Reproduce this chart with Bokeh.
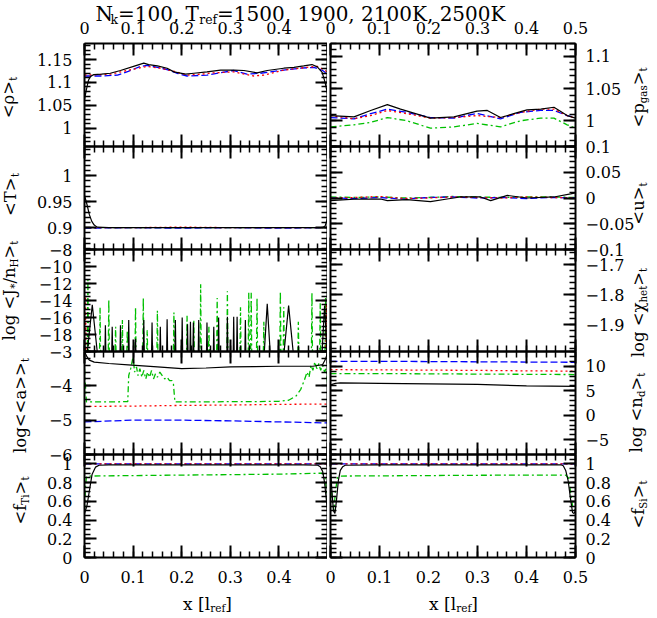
import math
from bokeh.plotting import figure
from bokeh.models import Range1d, LinearAxis, FixedTicker, Label, CustomJSTickFormatter
from bokeh.layouts import column, row
from bokeh.embed import file_html
from bokeh.resources import INLINE

FONT = "DejaVu Serif"
TICK_PX = 16
LABEL_PX = 16.5
TITLE_PX = 20
BLACK, RED, BLUE, GREEN = "#000000", "#ff0000", "#0000ff", "#00c000"

# ---------------- data ----------------
x_major = [0, 0.1, 0.2, 0.3, 0.4, 0.5]

# <rho>_t
rho_black_x = [0, 0.004, 0.008, 0.012, 0.019, 0.035, 0.053, 0.074, 0.101, 0.122, 0.132, 0.15, 0.17, 0.184,
               0.208, 0.225, 0.252, 0.28, 0.307, 0.328, 0.355, 0.376, 0.41, 0.431, 0.451, 0.468, 0.479,
               0.489, 0.495, 0.5]
rho_black_y = [1.063, 1.085, 1.104, 1.113, 1.117, 1.118, 1.12, 1.126, 1.135, 1.142, 1.139, 1.136, 1.131,
               1.123, 1.118, 1.12, 1.123, 1.127, 1.127, 1.126, 1.121, 1.126, 1.131, 1.133, 1.136, 1.139,
               1.134, 1.122, 1.1, 1.075]
rho_red_x = [0, 0.053, 0.101, 0.128, 0.156, 0.185, 0.211, 0.24, 0.266, 0.307, 0.348, 0.369, 0.41, 0.458,
             0.479, 0.496, 0.5]
rho_red_y = [1.116, 1.118, 1.129, 1.135, 1.131, 1.124, 1.116, 1.118, 1.121, 1.123, 1.114, 1.116, 1.127,
             1.133, 1.135, 1.126, 1.12]
rho_blue_x = [0, 0.034, 0.068, 0.09, 0.115, 0.128, 0.15, 0.17, 0.19, 0.211, 0.252, 0.28, 0.307, 0.334,
              0.362, 0.41, 0.444, 0.472, 0.49, 0.5]
rho_blue_y = [1.114, 1.114, 1.116, 1.124, 1.135, 1.137, 1.133, 1.128, 1.12, 1.114, 1.116, 1.121, 1.126,
              1.118, 1.12, 1.127, 1.131, 1.133, 1.126, 1.118]

# <p_gas>_t
pg_black_x = [0, 0.048, 0.082, 0.116, 0.143, 0.204, 0.252, 0.299, 0.32, 0.347, 0.374, 0.401, 0.429, 0.456,
              0.483, 0.5]
pg_black_y = [1.008, 1.006, 1.016, 1.025, 1.018, 1.004, 1.006, 1.015, 1.016, 1.005, 1.011, 1.017, 1.018,
              1.021, 1.008, 1.004]
pg_x = [0, 0.048, 0.082, 0.116, 0.156, 0.204, 0.252, 0.299, 0.347, 0.388, 0.429, 0.456, 0.483, 0.5]
pg_blue_y = [1.005, 1.003, 1.011, 1.018, 1.013, 1.005, 1.004, 1.0115, 1.003, 1.013, 1.016, 1.016, 1.008, 1.005]
pg_red_y = [1.008, 1.003, 1.008, 1.016, 1.011, 1.004, 1.005, 1.008, 1.005, 1.013, 1.018, 1.018, 1.008, 1.004]
pg_green_y = [0.9905, 0.9937, 0.9974, 1.005, 1.0, 0.9884, 0.9905, 0.9958, 0.9905, 1.0, 1.004, 1.004,
              0.9937, 0.9884]

# <T>_t
t_black_x = [0, 0.005, 0.01, 0.015, 0.02, 0.026, 0.05, 0.15, 0.25, 0.35, 0.45, 0.49, 0.495, 0.5]
t_black_y = [0.962, 0.945, 0.925, 0.912, 0.905, 0.901, 0.9, 0.9, 0.9, 0.9, 0.9, 0.9, 0.903, 0.918]
t_x = [0, 0.1, 0.2, 0.3, 0.4, 0.5]
t_blue_y = [0.899, 0.9, 0.899, 0.9, 0.899, 0.9]
t_red_y = [0.9, 0.9, 0.901, 0.9, 0.9, 0.9]
t_green_y = [0.9, 0.9, 0.9, 0.9, 0.9, 0.9]

# <u>_t
u_black_x = [0, 0.048, 0.102, 0.116, 0.156, 0.204, 0.238, 0.265, 0.306, 0.327, 0.361, 0.401, 0.456, 0.49, 0.5]
u_black_y = [-0.005, -0.002, -0.002, -0.005, -0.003, -0.007, -0.002, 0.002, 0.002, -0.005, 0.005, 0.0,
             0.002, 0.008, 0.01]
u_x = [0, 0.05, 0.1, 0.15, 0.2, 0.25, 0.3, 0.35, 0.4, 0.45, 0.5]
u_blue_y = [0.0, -0.001, 0.001, -0.002, 0.001, 0.002, 0.0, 0.001, -0.001, 0.001, 0.0]
u_red_y = [0.0, 0.001, 0.003, -0.001, 0.0, 0.002, 0.001, 0.0, 0.002, 0.001, 0.0]
u_green_y = [0.002, 0.001, 0.002, 0.0, 0.001, 0.003, 0.002, 0.001, 0.002, 0.002, 0.001]

# log <J*/n_H>_t : nucleation bursts (x, peak value, half-width)
J_FLOOR = -21.0
j_black_x = [0.016, 0.043, 0.057, 0.074, 0.091, 0.105, 0.122, 0.139, 0.156, 0.17, 0.187, 0.201, 0.212,
             0.218, 0.224, 0.235, 0.252, 0.266, 0.276, 0.294, 0.307, 0.314, 0.331, 0.376, 0.42, 0.494]
j_black_peak = [-14.5, -16.9, -17.1, -16.9, -16.3, -18.5, -16.3, -16.6, -17.1, -16.2, -16.3, -16.0, -16.8,
                -16.5, -16.6, -16.3, -16.6, -17.1, -16.0, -15.9, -15.9, -15.9, -16.3, -14.4, -14.6, -14.6]
j_black_w = [0.012, 0.0012, 0.0012, 0.0012, 0.0012, 0.0012, 0.0012, 0.0012, 0.0012, 0.0012, 0.0012, 0.0012,
             0.0012, 0.0012, 0.0012, 0.0012, 0.0012, 0.0012, 0.0012, 0.0012, 0.0012, 0.0012, 0.0012, 0.007,
             0.011, 0.006]
j_green_x = [0.007, 0.032, 0.05, 0.064, 0.078, 0.088, 0.105, 0.121, 0.129, 0.15, 0.184, 0.211, 0.225, 0.239,
             0.256, 0.273, 0.294, 0.321, 0.338, 0.343, 0.355, 0.369, 0.403, 0.41, 0.44, 0.468, 0.485, 0.496]
j_green_peak = [-11.6, -14.8, -13.9, -17.1, -16.3, -17.5, -14.8, -13.7, -17.5, -15.2, -15.4, -15.8, -16.3,
                -12.1, -17.1, -13.7, -12.9, -14.8, -13.1, -13.1, -13.7, -16.5, -12.9, -14.8, -16.5, -13.1,
                -14.3, -13.7]
j_red_x = [0.002, 0.498]
j_red_peak = [-13.5, -14.5]

# log <<a>>_t
a_black_x = [0, 0.005, 0.01, 0.02, 0.05, 0.09, 0.15, 0.2, 0.25, 0.3, 0.35, 0.4, 0.47, 0.49, 0.495, 0.5]
a_black_y = [-3.0, -3.15, -3.25, -3.31, -3.35, -3.39, -3.45, -3.5, -3.48, -3.45, -3.44, -3.43, -3.43,
             -3.38, -3.25, -3.05]
a_green_x = [0, 0.002, 0.004, 0.05, 0.089, 0.091, 0.095, 0.1, 0.103, 0.107, 0.11, 0.114, 0.118, 0.122,
             0.126, 0.13, 0.134, 0.138, 0.142, 0.146, 0.15, 0.155, 0.16, 0.165, 0.17, 0.175, 0.18, 0.183,
             0.186, 0.25, 0.3, 0.35, 0.4, 0.42, 0.435, 0.445, 0.452, 0.458, 0.462, 0.466, 0.47, 0.474,
             0.478, 0.482, 0.486, 0.49, 0.494, 0.497, 0.5]
a_green_y = [-3.5, -4.0, -4.47, -4.47, -4.46, -3.7, -3.5, -3.15, -3.6, -3.45, -3.7, -3.5, -3.75, -3.55,
             -3.8, -3.6, -3.75, -3.55, -3.8, -3.65, -3.75, -3.6, -3.7, -3.8, -3.75, -3.85, -3.85, -3.95,
             -4.47, -4.47, -4.46, -4.46, -4.45, -4.42, -4.3, -4.1, -3.85, -3.6, -3.75, -3.4, -3.55, -3.3,
             -3.5, -3.35, -3.55, -3.4, -3.6, -3.5, -3.9]
a_x = [0, 0.1, 0.2, 0.3, 0.4, 0.5]
a_red_y = [-4.6, -4.59, -4.57, -4.56, -4.54, -4.53]
a_blue_y = [-5.05, -5.0, -5.0, -5.02, -5.05, -5.08]

# log <n_d>_t
nd_x = [0, 0.1, 0.2, 0.3, 0.4, 0.5]
nd_blue_y = [11.0, 11.0, 10.95, 10.9, 10.85, 10.8]
nd_red_y = [9.3, 9.25, 9.2, 9.15, 9.05, 9.0]
nd_green_y = [8.5, 8.5, 8.45, 8.4, 8.35, 8.3]
nd_black_x = [0, 0.01, 0.02, 0.1, 0.2, 0.3, 0.4, 0.45, 0.5]
nd_black_y = [6.2, 6.5, 6.6, 6.5, 6.4, 6.3, 6.0, 5.95, 5.9]

# <f_Ti>_t
fti_black_x = [0, 0.005, 0.009, 0.0157, 0.0226, 0.03, 0.05, 0.15, 0.25, 0.35, 0.45, 0.48, 0.485, 0.49,
               0.494, 0.497, 0.5]
fti_black_y = [0.47, 0.55, 0.68, 0.89, 0.965, 0.985, 0.99, 0.99, 0.99, 0.99, 0.99, 0.985, 0.97, 0.92,
               0.8, 0.65, 0.5]
fti_green_x = [0, 0.002, 0.004, 0.01, 0.1, 0.2, 0.3, 0.4, 0.48, 0.49, 0.495, 0.5]
fti_green_y = [0.5, 0.75, 0.86, 0.87, 0.875, 0.88, 0.885, 0.89, 0.9, 0.9, 0.86, 0.6]
f_x = [0, 0.1, 0.2, 0.3, 0.4, 0.5]
f_blue_y = [1.0, 1.0, 1.0, 1.0, 1.0, 1.0]
f_red_y = [1.0, 1.0, 1.0, 1.0, 1.0, 1.0]

# <f_Si>_t
fsi_black_x = [0, 0.003, 0.006, 0.009, 0.012, 0.016, 0.02, 0.025, 0.03, 0.1, 0.2, 0.3, 0.4, 0.47, 0.475,
               0.48, 0.485, 0.49, 0.494, 0.497, 0.5]
fsi_black_y = [0.95, 0.7, 0.5, 0.47, 0.6, 0.82, 0.93, 0.97, 0.985, 0.99, 0.99, 0.99, 0.99, 0.99, 0.98,
               0.93, 0.82, 0.62, 0.48, 0.47, 0.5]
fsi_green_x = [0, 0.004, 0.007, 0.01, 0.014, 0.02, 0.1, 0.2, 0.3, 0.4, 0.48, 0.486, 0.49, 0.494, 0.5]
fsi_green_y = [0.85, 0.6, 0.5, 0.7, 0.85, 0.87, 0.872, 0.875, 0.878, 0.88, 0.88, 0.85, 0.7, 0.55, 0.5]

# axis tick values
rho_ticks = [1.0, 1.05, 1.1, 1.15]
pgas_ticks = [1.0, 1.05, 1.1]
t_ticks = [0.9, 0.95, 1.0]
u_ticks = [-0.1, -0.05, 0, 0.05, 0.1]
j_ticks = [-18, -16, -14, -12, -10, -8]
chi_ticks = [-1.9, -1.8, -1.7]
a_ticks = [-6, -5, -4, -3]
nd_ticks = [-5, 0, 5, 10]
f_ticks = [0, 0.2, 0.4, 0.6, 0.8, 1]

title_parts = [("N", False), ("k", True), ("=100, T", False), ("ref", True),
               ("=1500, 1900, 2100K, 2500K", False)]
xlabel_parts = [("x [l", False), ("ref", True), ("]", False)]

# ---------------- helpers ----------------
STY = {
    "black": dict(line_color=BLACK, line_width=1.2),
    "red": dict(line_color=RED, line_width=1.3, line_dash="2 3"),
    "blue": dict(line_color=BLUE, line_width=1.3, line_dash="7 3"),
    "green": dict(line_color=GREEN, line_width=1.3, line_dash="6 3 2 3"),
}

CW = {' ': 0.318, '.': 0.318, ',': 0.318, '=': 0.838, '<': 0.838, '>': 0.838, '[': 0.39, ']': 0.39,
      '/': 0.337, '*': 0.5, 'N': 0.748, 'T': 0.682, 'K': 0.724, 'J': 0.42, 'H': 0.872, 'S': 0.686,
      'a': 0.596, 'd': 0.64, 'e': 0.592, 'f': 0.37, 'g': 0.64, 'h': 0.644, 'i': 0.32, 'k': 0.605,
      'l': 0.32, 'n': 0.644, 'o': 0.602, 'p': 0.64, 'r': 0.478, 's': 0.513, 't': 0.402, 'u': 0.644,
      'x': 0.564, '\u03c1': 0.602, '\u03c7': 0.6}
for _d in "0123456789":
    CW[_d] = 0.636

# empirical correction of where the renderer puts the text baseline (pixels, "down" in text frame)
BASE_SHIFT_H = 3.0
BASE_SHIFT_V = 13.0


def tw(s, size):
    return sum(CW.get(c, 0.6) for c in s) * size


def rich(p, parts, x, y, angle, size, align="center"):
    """Text with subscripts, laid out piece by piece (offsets in screen pixels)."""
    ca, sa = math.cos(angle), math.sin(angle)
    sub_size = size * 0.62
    widths = [tw(t, sub_size if sub else size) for t, sub in parts]
    d = -sum(widths) / 2 if align == "center" else 0.0
    corr = BASE_SHIFT_V if abs(sa) > 0.5 else BASE_SHIFT_H
    for (t, sub), w in zip(parts, widths):
        drop = (0.28 * size if sub else 0.0) - corr
        p.add_layout(Label(x=x, y=y, x_offset=d * ca + drop * sa, y_offset=d * sa - drop * ca,
                           text=t, angle=angle, text_font=FONT,
                           text_font_size=f"{round(sub_size if sub else size, 2)}px",
                           text_align="left", text_baseline="alphabetic", text_color="black"))
        d += w


def minor(lo, hi, step):
    k0 = math.ceil(lo / step - 1e-9)
    k1 = math.floor(hi / step + 1e-9)
    return [round(k * step, 6) for k in range(k0, k1 + 1)]


FMT = "return String(tick).replace('-', '\u2212');"
FMT_NO_HALF = "if (Math.abs(tick - 0.5) < 1e-9) { return ''; } return String(tick).replace('-', '\u2212');"


def add_axis(p, side, ticks, minors, show, standoff=0, code=FMT):
    ax = LinearAxis(ticker=FixedTicker(ticks=ticks, minor_ticks=minors),
                    formatter=CustomJSTickFormatter(code=code if show else "return '';"),
                    axis_line_width=2, axis_line_color="black",
                    major_tick_in=12, major_tick_out=0, minor_tick_in=6, minor_tick_out=0,
                    major_tick_line_width=2, minor_tick_line_width=1.5,
                    major_tick_line_color="black", minor_tick_line_color="black",
                    major_label_standoff=standoff if show else 0,
                    major_label_text_font=FONT,
                    major_label_text_font_size=f"{TICK_PX}px" if show else "0px",
                    major_label_text_color="black")
    p.add_layout(ax, side)


def spikes(xs, peaks, widths, floor):
    X, Y = [], []
    for x, pk, w in zip(xs, peaks, widths):
        X += [x - w, x, x + w]
        Y += [floor, pk, floor]
    return X, Y


jbx, jby = spikes(j_black_x, j_black_peak, j_black_w, J_FLOOR)
jgx, jgy = spikes(j_green_x, j_green_peak, [0.0012] * len(j_green_x), J_FLOOR)
jrx, jry = spikes(j_red_x, j_red_peak, [0.0015] * len(j_red_x), J_FLOOR)

# label positions: (baseline x, centre y) in page pixels
PANELS = {
    "rho": dict(rng=(0.96, 1.185), ticks=rho_ticks, mstep=0.01,
                series=[("blue", rho_blue_x, rho_blue_y), ("red", rho_red_x, rho_red_y),
                        ("black", rho_black_x, rho_black_y)],
                label=[("<\u03c1>", False), ("t", True)], lab=(21, 97)),
    "pgas": dict(rng=(0.96, 1.12), ticks=pgas_ticks, mstep=0.01,
                 series=[("green", pg_x, pg_green_y), ("blue", pg_x, pg_blue_y), ("red", pg_x, pg_red_y),
                         ("black", pg_black_x, pg_black_y)],
                 label=[("<p", False), ("gas", True), (">", False), ("t", True)], lab=(651, 97)),
    "T": dict(rng=(0.858, 1.056), ticks=t_ticks, mstep=0.01,
              series=[("green", t_x, t_green_y), ("blue", t_x, t_blue_y), ("red", t_x, t_red_y),
                      ("black", t_black_x, t_black_y)],
              label=[("<T>", False), ("t", True)], lab=(23, 194)),
    "u": dict(rng=(-0.1, 0.1), ticks=u_ticks, mstep=0.01,
              series=[("green", u_x, u_green_y), ("blue", u_x, u_blue_y), ("red", u_x, u_red_y),
                      ("black", u_black_x, u_black_y)],
              label=[("<u>", False), ("t", True)], lab=(651, 203)),
    "J": dict(rng=(-20, -8), ticks=j_ticks, mstep=0.5,
              series=[("green", jgx, jgy), ("red", jrx, jry), ("black", jbx, jby)],
              label=[("log <J", False), ("*", True), ("/n", False), ("H", True), (">", False), ("t", True)],
              lab=(22, 290)),
    "chi": dict(rng=(-1.99, -1.65), ticks=chi_ticks, mstep=0.02, series=[],
                label=[("log <\u03c7", False), ("het", True), (">", False), ("t", True)], lab=(651, 312)),
    "a": dict(rng=(-6, -3), ticks=a_ticks, mstep=0.2,
              series=[("blue", a_x, a_blue_y), ("red", a_x, a_red_y), ("green", a_green_x, a_green_y),
                      ("black", a_black_x, a_black_y)],
              label=[("log<<a>>", False), ("t", True)], lab=(33, 405)),
    "nd": dict(rng=(-8, 13), ticks=nd_ticks, mstep=1,
               series=[("blue", nd_x, nd_blue_y), ("red", nd_x, nd_red_y), ("green", nd_x, nd_green_y),
                       ("black", nd_black_x, nd_black_y)],
               label=[("log <n", False), ("d", True), (">", False), ("t", True)], lab=(649, 412)),
    "fTi": dict(rng=(0, 1.1), ticks=f_ticks, mstep=0.05,
                series=[("green", fti_green_x, fti_green_y), ("blue", f_x, f_blue_y), ("red", f_x, f_red_y),
                        ("black", fti_black_x, fti_black_y)],
                label=[("<f", False), ("Ti", True), (">", False), ("t", True)], lab=(33, 500)),
    "fSi": dict(rng=(0, 1.1), ticks=f_ticks, mstep=0.05,
                series=[("green", fsi_green_x, fsi_green_y), ("blue", f_x, f_blue_y), ("red", f_x, f_red_y),
                        ("black", fsi_black_x, fsi_black_y)],
                label=[("<f", False), ("Si", True), (">", False), ("t", True)], lab=(651, 504)),
}

# layout geometry (page pixels, page origin at 0,0)
PAGE_W, PAGE_H = 657, 618
LEFT_FRAME = (84, 327)
RIGHT_FRAME = (330, 575)
OVL = 9  # horizontal overlap of the right canvas onto the left one
ROWS = [  # left, right, frame height, top border, bottom border, margin-top
    ("rho", "pgas", 103, 43, 12, -PAGE_H),
    ("T", "u", 103, 12, 12, -24),
    ("J", "chi", 102, 12, 12, -24),
    ("a", "nd", 103, 12, 12, -24),
    ("fTi", "fSi", 103, 12, 53, -24),
]
x_minor = minor(0, 0.5, 0.02)

# overlay canvas (page coordinates) for title and axis titles
ovl = figure(width=PAGE_W, height=PAGE_H, x_range=Range1d(0, PAGE_W), y_range=Range1d(PAGE_H, 0),
             x_axis_location=None, y_axis_location=None, tools="", min_border=0,
             output_backend="svg", toolbar_location=None,
             background_fill_color=None, border_fill_color=None, outline_line_color=None)
ovl.xgrid.visible = False
ovl.ygrid.visible = False
rich(ovl, title_parts, 95, 16, 0, TITLE_PX, align="left")
rich(ovl, xlabel_parts, 207, 606, 0, 17)
rich(ovl, xlabel_parts, 453, 606, 0, 17)


def make_panel(key, side, fh, bt, bb, ridx):
    cfg = PANELS[key]
    if side == "L":
        bl, br, fw = LEFT_FRAME[0], 0, LEFT_FRAME[1] - LEFT_FRAME[0]
    else:
        bl, fw = RIGHT_FRAME[0] - (LEFT_FRAME[1] - OVL), RIGHT_FRAME[1] - RIGHT_FRAME[0]
        br = PAGE_W - RIGHT_FRAME[1]
    lo, hi = cfg["rng"]
    p = figure(width=bl + fw + br, height=bt + fh + bb, x_range=Range1d(0, 0.5), y_range=Range1d(lo, hi),
               x_axis_location=None, y_axis_location=None, tools="",
               output_backend="svg", toolbar_location=None,
               min_border_left=bl, min_border_right=br, min_border_top=bt, min_border_bottom=bb,
               background_fill_color=None, border_fill_color=None, outline_line_color=None)
    p.xgrid.visible = False
    p.ygrid.visible = False
    if side == "R":
        p.margin = (0, 0, 0, -OVL)
    xcode = FMT_NO_HALF if side == "L" else FMT
    add_axis(p, "above", x_major, x_minor, ridx == 0, standoff=10, code=xcode)
    add_axis(p, "below", x_major, x_minor, ridx == len(ROWS) - 1, standoff=13, code=xcode)
    ym = minor(lo, hi, cfg["mstep"])
    add_axis(p, "left", cfg["ticks"], ym, side == "L", standoff=12)
    add_axis(p, "right", cfg["ticks"], ym, side == "R", standoff=10)
    for name, xs, ys in cfg["series"]:
        p.line(xs, ys, **STY[name])
    bx, cy = cfg["lab"]
    rich(ovl, cfg["label"], bx, cy, math.pi / 2, LABEL_PX)
    return p


rows = []
for ridx, (lk, rk, fh, bt, bb, mt) in enumerate(ROWS):
    pl = make_panel(lk, "L", fh, bt, bb, ridx)
    pr = make_panel(rk, "R", fh, bt, bb, ridx)
    rows.append(row(pl, pr, margin=(mt, 0, 0, 0)))

layout = column(ovl, *rows)
open("out.html", "w").write(file_html(layout, INLINE))
